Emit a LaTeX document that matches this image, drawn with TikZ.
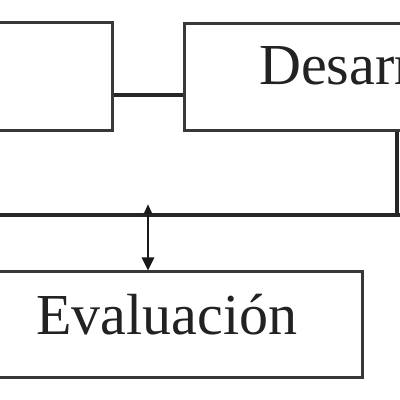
\documentclass[tikz,border=0pt]{standalone}
\usepackage{fontspec}
\setmainfont{Liberation Serif}
\usetikzlibrary{arrows.meta}
\definecolor{boxline}{HTML}{383838}
\definecolor{txt}{HTML}{222222}
\tikzset{
  box/.style={draw=boxline, line width=3pt, rectangle, inner sep=0pt},
  lbl/.style={inner sep=0pt, anchor=base west, text=txt, font=\fontsize{58}{60}\selectfont},
  conn/.style={draw=black!85, line width=3.4pt},
  bus/.style={draw=black!85, line width=3.8pt},
  arr/.style={draw=black!90, line width=2.8pt, {Triangle[width=8pt,length=10pt]}-{Triangle[width=12pt,length=13pt]}}
}
\begin{document}
\begin{tikzpicture}[x=1pt,y=1pt]
\useasboundingbox (0,0) rectangle (400,400);
\clip (0,0) rectangle (400,400);
\fill[white] (0,0) rectangle (400,400);
% boxes
\node[box, minimum width=212pt, minimum height=108pt] (plan) at (6,323) {};
\node[box, minimum width=396pt, minimum height=107pt] (dev) at (382,322.5) {};
\node[box, minimum width=390pt, minimum height=106pt] (eval) at (167,75) {};
% labels
\node[lbl] (devtxt) at (259,315) {Desarrollo};
\node[lbl] (evaltxt) at (36,65) {Evaluación};
% coordinates
\coordinate (mid) at (150,305);
\coordinate (corner) at (397,185);
\coordinate (busL) at (-10,185);
\coordinate (busR) at (410,185);
\coordinate (j) at (148,185);
\coordinate (jtop) at (148,196);
% connectors
\draw[conn] (plan.east |- mid) -- (dev.west |- mid);
\draw[conn] (dev.south -| corner) -- (corner);
\draw[bus] (busL) -- (busR);
\draw[arr] (jtop) -- (eval.north -| j);
\end{tikzpicture}
\end{document}
